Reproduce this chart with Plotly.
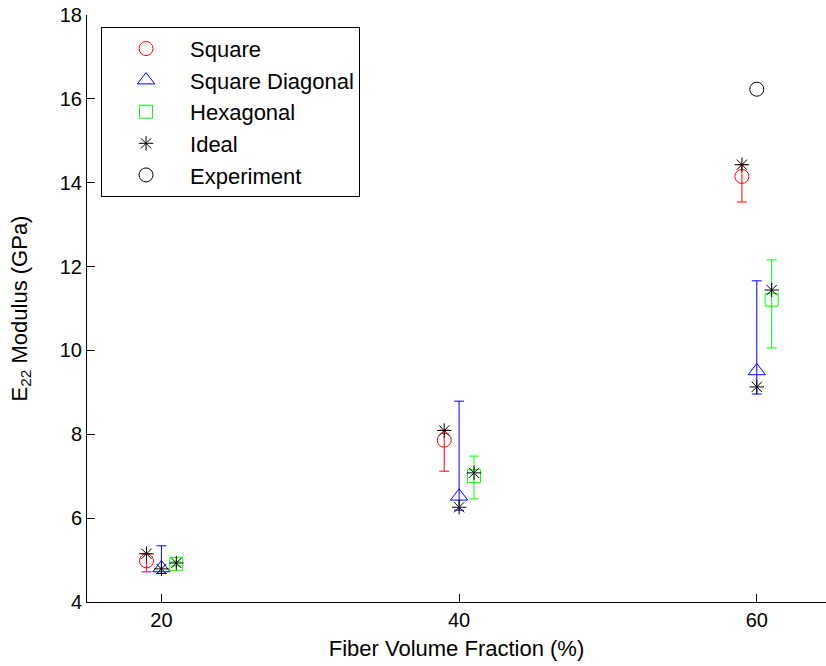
import plotly.graph_objects as go

# Fiber volume fractions (%) and per-model horizontal offsets used for display
vf = [20, 40, 60]

# Square packing model: value, upper and lower bounds (GPa)
square_val = [4.98, 7.86, 14.15]
square_hi = [5.15, 8.10, 14.43]
square_lo = [4.72, 7.12, 13.54]

# Square diagonal packing model
diag_val = [4.81, 6.52, 9.51]
diag_hi = [5.34, 8.79, 11.66]
diag_lo = [4.68, 6.19, 8.96]

# Hexagonal packing model
hex_val = [4.91, 7.00, 11.21]
hex_hi = [4.96, 7.48, 12.16]
hex_lo = [4.86, 6.46, 10.06]

# Ideal values, one per model at each fraction (square, diagonal, hexagonal)
ideal_square = [5.15, 8.09, 14.43]
ideal_diag = [4.79, 6.26, 9.13]
ideal_hex = [4.93, 7.08, 11.44]

# Experimental measurement
exp_vf = [60]
exp_val = [16.23]

offset = {"square": -1, "diag": 0, "hex": 1}

RED, BLUE, GREEN = "#ff0000", "#0000ff", "#00ff00"
FONT = "Liberation Sans, Arial, sans-serif"


def shifted(xs, d):
    return [x + d for x in xs]


def err(val, hi, lo):
    return dict(type="data", symmetric=False,
                array=[h - v for h, v in zip(hi, val)],
                arrayminus=[v - l for v, l in zip(val, lo)],
                thickness=1, width=5)


fig = go.Figure()

fig.add_trace(go.Scatter(
    x=shifted(vf, offset["square"]), y=square_val, mode="markers", name="Square",
    legendgroup="a",
    marker=dict(symbol="circle-open", size=14, color=RED, line=dict(width=1, color=RED)),
    error_y=dict(err(square_val, square_hi, square_lo), color=RED)))

fig.add_trace(go.Scatter(
    x=shifted(vf, offset["diag"]), y=diag_val, mode="markers", name="Square Diagonal",
    legendgroup="b",
    marker=dict(symbol="triangle-up-open", size=15, color=BLUE, line=dict(width=1, color=BLUE)),
    error_y=dict(err(diag_val, diag_hi, diag_lo), color=BLUE)))

fig.add_trace(go.Scatter(
    x=shifted(vf, offset["hex"]), y=hex_val, mode="markers", name="Hexagonal",
    legendgroup="c",
    marker=dict(symbol="square-open", size=13, color=GREEN, line=dict(width=1, color=GREEN)),
    error_y=dict(err(hex_val, hex_hi, hex_lo), color=GREEN)))

ideal_x = (shifted(vf, offset["square"]) + shifted(vf, offset["diag"])
           + shifted(vf, offset["hex"]))
ideal_y = ideal_square + ideal_diag + ideal_hex
fig.add_trace(go.Scatter(
    x=ideal_x, y=ideal_y, mode="markers", name="Ideal", legendgroup="d",
    marker=dict(symbol="asterisk-open", size=12, color="black",
                line=dict(width=1, color="black"))))

fig.add_trace(go.Scatter(
    x=exp_vf, y=exp_val, mode="markers", name="Experiment", legendgroup="e",
    marker=dict(symbol="circle-open", size=14, color="black",
                line=dict(width=1, color="black"))))

axis_common = dict(
    showgrid=False, zeroline=False, showline=True, linecolor="black", linewidth=1,
    ticks="inside", tickcolor="black", ticklen=8, tickwidth=1,
    tickfont=dict(family=FONT, size=20, color="black"),
)

fig.update_layout(
    width=826, height=666,
    margin=dict(l=87, r=0, t=15, b=64),
    paper_bgcolor="white", plot_bgcolor="white",
    font=dict(family=FONT, color="black"),
    xaxis=dict(axis_common, range=[15, 64.65], tickvals=vf,
               title=dict(text="Fiber Volume Fraction (%)",
                          font=dict(family=FONT, size=22), standoff=10)),
    yaxis=dict(axis_common, range=[4, 18], tickvals=list(range(4, 19, 2)),
               title=dict(text="E<sub>22</sub> Modulus (GPa)",
                          font=dict(family=FONT, size=22), standoff=26)),
    legend=dict(x=0.019, y=0.98, xanchor="left", yanchor="top",
                bgcolor="white", bordercolor="black", borderwidth=1,
                font=dict(family=FONT, size=22, color="black"),
                itemwidth=78, tracegroupgap=0, traceorder="grouped"),
    showlegend=True,
)

fig.write_html("out.html")
